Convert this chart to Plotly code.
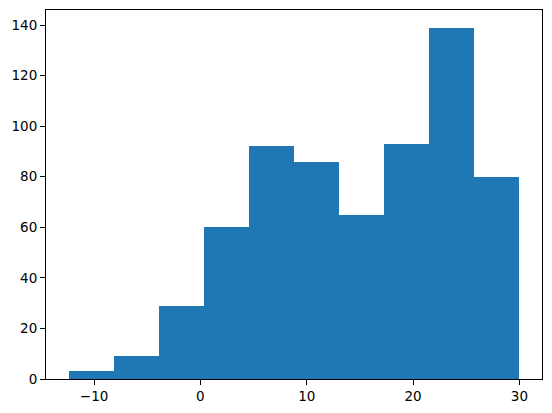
import numpy as np
import plotly.graph_objects as go

counts = [3, 9, 29, 60, 92, 86, 65, 93, 139, 80]
bin_min = -12.4
bin_max = 30.0
x_ticks = [-10, 0, 10, 20, 30]
y_ticks = [0, 20, 40, 60, 80, 100, 120, 140]

edges = np.linspace(bin_min, bin_max, len(counts) + 1)
centers = (edges[:-1] + edges[1:]) / 2
widths = np.diff(edges)

fig = go.Figure(go.Bar(x=centers, y=counts, width=widths,
                       marker=dict(color="#1f77b4", line=dict(width=0))))

span = bin_max - bin_min
ymax = max(counts) * 1.05
axis_common = dict(showgrid=False, zeroline=False, showline=True, linecolor="black",
                   linewidth=1, mirror=True, ticks="outside", ticklen=5, tickwidth=1,
                   tickcolor="black", tickfont=dict(family="DejaVu Sans", size=13.5, color="black"))
fig.update_xaxes(range=[bin_min - 0.05 * span, bin_max + 0.05 * span], tickvals=x_ticks,
                 ticktext=["\u221210" if v == -10 else str(v) for v in x_ticks], **axis_common)
fig.update_yaxes(range=[0, ymax], tickvals=y_ticks, **axis_common)
# page body has an 8px default margin; compensate so the plot area lands where the reference has it
fig.update_layout(width=544, height=405, margin=dict(l=38, r=10, t=2, b=34),
                  plot_bgcolor="white", paper_bgcolor="white", bargap=0, showlegend=False)
fig.write_html("out.html")
